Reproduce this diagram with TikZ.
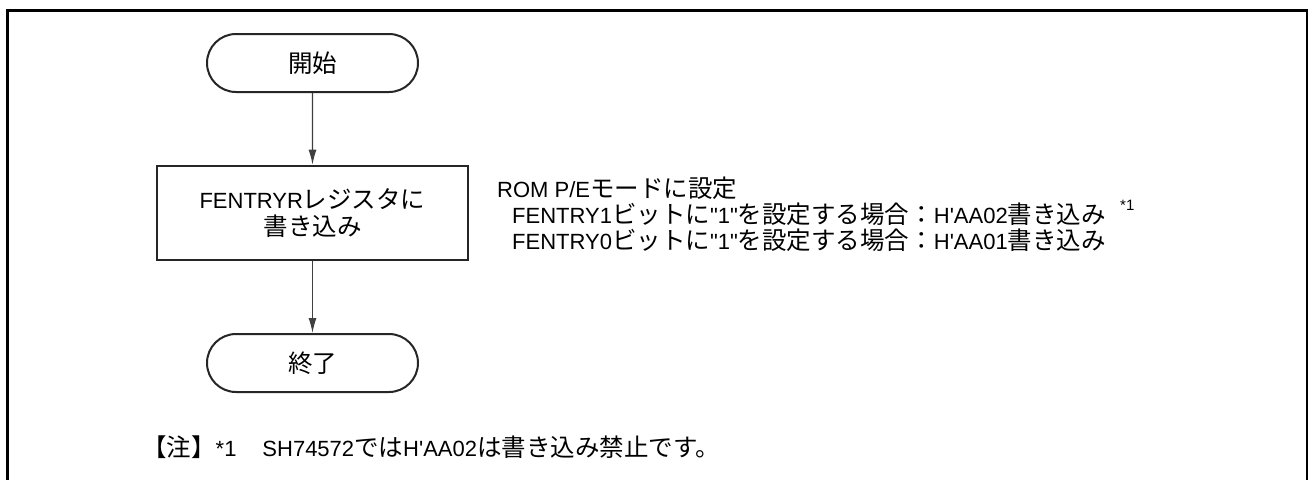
\documentclass[tikz,border=0pt]{standalone}
\usepackage{fontspec}
\setmainfont{Liberation Sans}[Ligatures=TeXOff]
\newfontfamily\cjk{Noto Sans CJK JP}
\usetikzlibrary{arrows.meta,shapes.misc}
\newcommand{\jp}[1]{{\cjk\fontsize{24.5pt}{26pt}\selectfont #1}}
\begin{document}
\begin{tikzpicture}[x=1pt,y=-1pt,
  term/.style={draw=black!85,line width=2pt,rounded rectangle,minimum width=211pt,minimum height=58pt,inner sep=0pt,font=\fontsize{22pt}{26pt}\selectfont},
  procbox/.style={draw=black!85,line width=2.6pt,rectangle,minimum width=311pt,minimum height=94pt,align=center,inner sep=0pt,font=\fontsize{22pt}{27pt}\selectfont},
  flow/.style={draw=black!75,line width=1.2pt,-{Latex[length=15pt,width=8pt]}},
  txt/.style={anchor=west,inner sep=0pt,font=\fontsize{22pt}{26pt}\selectfont}]
\useasboundingbox (0,0) rectangle (1308,480);
\fill[white] (0,0) rectangle (1308,480);
\draw[line width=3pt] (7,480) -- (7,10) -- (1307,10) -- (1307,480);
\node[term] (start) at (312.5,63) {\jp{開始}};
\node[procbox] (write) at (312.5,213) {FENTRYR\jp{レジスタに}\\\jp{書き込み}};
\node[term] (end) at (312.5,363) {\jp{終了}};
\draw[flow] (start) -- (write);
\draw[flow] (write) -- (end);
\node[txt] (l1) at (497,188) {ROM P/E\jp{モードに設定}};
\node[txt] (l2) at (512,214) {FENTRY1\jp{ビットに}"1"\jp{を設定する場合：}H'AA02\jp{書き込み}};
\node[txt] (l3) at (512,240) {FENTRY0\jp{ビットに}"1"\jp{を設定する場合：}H'AA01\jp{書き込み}};
\node[anchor=west,inner sep=0pt,font=\fontsize{15pt}{18pt}\selectfont] (n1) at (1120,205) {*1};
\node[txt] (note) at (142,447) {\jp{【注】}*1\hspace{26pt}SH74572\jp{では}H'AA02\jp{は書き込み禁止です。}};
\end{tikzpicture}
\end{document}
